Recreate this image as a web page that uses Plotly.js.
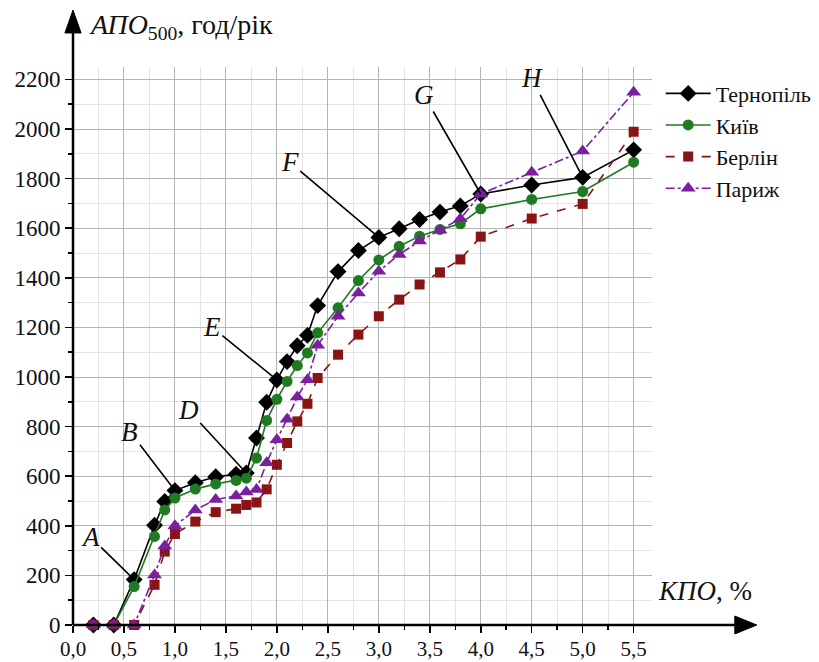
<!DOCTYPE html>
<html>
<head>
<meta charset="utf-8">
<script src="https://cdn.plot.ly/plotly-3.0.1.min.js"></script>
<style>html,body{margin:0;padding:0;background:#fff;}#chart{width:819px;height:662px;}</style>
</head>
<body>
<div id="chart"></div>
<script>
// ---- Data ----
const kpo = [0.2,0.4,0.6,0.8,0.9,1.0,1.2,1.4,1.6,1.7,1.8,1.9,2.0,2.1,2.2,2.3,2.4,2.6,2.8,3.0,3.2,3.4,3.6,3.8,4.0,4.5,5.0,5.5];
const ternopil = [0,0,183,402,498,542,574,598,608,613,754,898,988,1062,1126,1168,1288,1425,1510,1563,1598,1635,1665,1690,1738,1774,1805,1916];
const kyiv     = [0,0,155,357,464,512,548,569,583,592,673,825,910,982,1046,1097,1178,1279,1389,1472,1527,1568,1595,1618,1678,1716,1748,1866];
const berlin   = [0,0,0,162,296,367,417,455,469,484,494,547,646,734,821,892,996,1090,1171,1245,1312,1373,1422,1474,1566,1639,1698,1989];
const paris    = [0,0,0,202,319,400,464,506,520,536,546,654,747,830,919,989,1128,1245,1339,1426,1494,1548,1592,1638,1738,1826,1911,2148];
const seriesNames = ["Тернопіль","Київ","Берлін","Париж"];
const xTickVals = [0,0.5,1,1.5,2,2.5,3,3.5,4,4.5,5,5.5];
const xTickText = ["0,0","0,5","1,0","1,5","2,0","2,5","3,0","3,5","4,0","4,5","5,0","5,5"];
const yTickVals = [0,200,400,600,800,1000,1200,1400,1600,1800,2000,2200];
const yTickText = ["0","200","400","600","800","1000","1200","1400","1600","1800","2000","2200"];
// point labels: letter, index into kpo (on Тернопіль series)
const pointLetters = ["A","B","D","E","F","G","H"];
const pointIdx = [2,5,9,12,19,24,26];

const serif = "Liberation Serif, Times New Roman, serif";
const cGreen = "#1f7a22", cRed = "#8a1414", cPurple = "#7a1f9e";

const traces = [
  {x:kpo,y:ternopil,name:seriesNames[0],mode:"lines+markers",cliponaxis:false,
   line:{color:"#000",width:1.6},marker:{symbol:"diamond",size:13,color:"#000"}},
  {x:kpo,y:kyiv,name:seriesNames[1],mode:"lines+markers",cliponaxis:false,
   line:{color:cGreen,width:1.6},marker:{symbol:"circle",size:11,color:cGreen}},
  {x:kpo,y:berlin,name:seriesNames[2],mode:"lines+markers",cliponaxis:false,
   line:{color:cRed,width:1.6,dash:"dash"},marker:{symbol:"square",size:10,color:cRed}},
  {x:kpo,y:paris,name:seriesNames[3],mode:"lines+markers",cliponaxis:false,
   line:{color:cPurple,width:1.6,dash:"dashdot"},marker:{symbol:"triangle-up",size:13,color:cPurple}}
];

const offsets = [[-44,-43],[-45,-59],[-58,-63],[-65,-53],[-89,-75],[-57,-99],[-51,-99]];
const annotations = pointLetters.map((L,i)=>({
  x:kpo[pointIdx[i]], y:ternopil[pointIdx[i]], xref:"x", yref:"y",
  text:"<i>"+L+"</i>", showarrow:true, arrowhead:0, arrowwidth:1.6, arrowcolor:"#000",
  ax:offsets[i][0], ay:offsets[i][1], font:{family:serif,size:27,color:"#111"}
}));
annotations.push({xref:"paper",yref:"paper",x:0.024,y:1.072,xanchor:"left",yanchor:"middle",showarrow:false,
  text:"<i>АПО</i><sub>500</sub>, год/рік",font:{family:serif,size:28,color:"#111"}});
annotations.push({xref:"paper",yref:"paper",x:1.007,y:0.061,xanchor:"left",yanchor:"middle",showarrow:false,
  text:"<i>КПО</i>, %",font:{family:serif,size:27,color:"#111"}});

const shapes = [
  {type:"line",xref:"paper",yref:"paper",x0:0,y0:0,x1:1.15,y1:0,line:{color:"#000",width:2.5}},
  {type:"line",xref:"paper",yref:"paper",x0:0,y0:0,x1:0,y1:1.07,line:{color:"#000",width:2.5}},
  {type:"path",xref:"paper",yref:"paper",path:"M 1.143 0.016 L 1.181 0 L 1.143 -0.016 Z",fillcolor:"#000",line:{color:"#000",width:1}},
  {type:"path",xref:"paper",yref:"paper",path:"M -0.014 1.061 L 0 1.102 L 0.014 1.061 Z",fillcolor:"#000",line:{color:"#000",width:1}}
];

const layout = {
  width:819,height:662,
  margin:{l:73,r:167,t:67,b:37,autoexpand:false},
  paper_bgcolor:"#fff",plot_bgcolor:"#fff",
  font:{family:serif,size:20,color:"#111"},
  showlegend:true,
  legend:{x:1.015,y:0.99,xanchor:"left",yanchor:"top",bgcolor:"rgba(0,0,0,0)",itemwidth:45,
    font:{family:serif,size:22,color:"#111"},tracegroupgap:0},
  xaxis:{range:[0,5.68],tickmode:"array",tickvals:xTickVals,ticktext:xTickText,automargin:false,
    showgrid:true,gridcolor:"#b4b4b4",gridwidth:1,zeroline:false,showline:false,
    ticks:"outside",ticklen:7,tickwidth:1.5,tickcolor:"#000",ticklabelstandoff:-2,
    tickfont:{family:serif,size:21,color:"#111"},
    minor:{dtick:0.25,tick0:0,showgrid:true,gridcolor:"#e4e4e4",gridwidth:1,ticks:"outside",ticklen:4,tickcolor:"#000"}},
  yaxis:{range:[0,2250],tickmode:"array",tickvals:yTickVals,ticktext:yTickText,automargin:false,
    showgrid:true,gridcolor:"#b4b4b4",gridwidth:1,zeroline:false,showline:false,
    ticks:"outside",ticklen:7,tickwidth:1.5,tickcolor:"#000",
    tickfont:{family:serif,size:23,color:"#111"},
    minor:{dtick:100,tick0:0,showgrid:true,gridcolor:"#e4e4e4",gridwidth:1,ticks:"outside",ticklen:4,tickcolor:"#000"}},
  annotations:annotations,
  shapes:shapes
};

Plotly.newPlot("chart",traces,layout,{displayModeBar:false,staticPlot:true});
</script>
</body>
</html>
